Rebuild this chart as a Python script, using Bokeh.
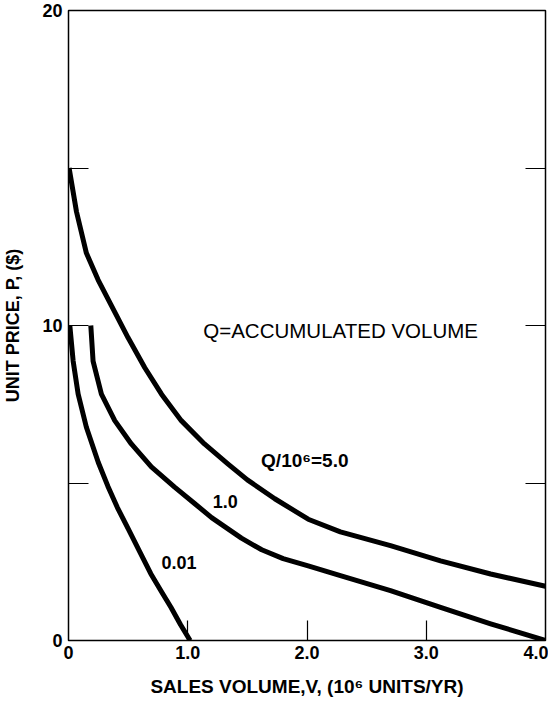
from bokeh.plotting import figure
from bokeh.models import Range1d, FixedTicker, LinearAxis
from bokeh.core.properties import value
from bokeh.embed import file_html
from bokeh.resources import INLINE

# Demand curves: unit price P ($) vs sales volume V (10^6 units/yr) for accumulated volume Q
q5_x = [0.005, 0.067, 0.15, 0.248, 0.36, 0.50, 0.64, 0.78, 0.946, 1.14, 1.336, 1.50, 1.73, 2.01, 2.28, 2.70, 3.12, 3.54, 4.00]
q5_y = [15.0, 13.61, 12.3, 11.45, 10.63, 9.61, 8.66, 7.82, 6.98, 6.24, 5.61, 5.10, 4.50, 3.85, 3.45, 3.01, 2.53, 2.11, 1.72]

q1_x = [0.187, 0.206, 0.276, 0.388, 0.527, 0.695, 0.89, 1.057, 1.20, 1.45, 1.62, 1.80, 2.01, 2.28, 2.70, 3.12, 3.54, 4.00]
q1_y = [10.0, 8.87, 7.82, 6.98, 6.24, 5.51, 4.87, 4.35, 3.90, 3.25, 2.88, 2.60, 2.37, 2.06, 1.58, 1.05, 0.53, 0.0]

q001_x = [0.011, 0.039, 0.081, 0.15, 0.25, 0.33, 0.41, 0.50, 0.60, 0.69, 0.78, 0.86, 0.94, 1.02]
q001_y = [10.0, 8.87, 7.82, 6.77, 5.65, 4.90, 4.22, 3.55, 2.80, 2.12, 1.55, 1.05, 0.50, 0.0]

x_ticks = [0, 1, 2, 3, 4]
x_tick_labels = ["0", "1.0", "2.0", "3.0", "4.0"]
x_minor = [1, 2, 3]
y_ticks = [0, 10, 20]
y_minor = [5, 10, 15]

ann_text = ["Q=ACCUMULATED VOLUME", "Q/10\u2076=5.0", "1.0", "0.01"]
ann_x = [1.13, 1.615, 1.21, 0.78]
ann_y = [9.84, 5.70, 4.40, 2.47]

FONT = "Liberation Sans"

p = figure(width=548, height=700, x_range=Range1d(0, 4), y_range=Range1d(0, 20),
           output_backend="svg", toolbar_location=None,
           min_border_left=67, min_border_right=3, min_border_top=10, min_border_bottom=60)
p.grid.visible = False
p.background_fill_color = "white"
p.border_fill_color = "white"
p.outline_line_color = "black"
p.outline_line_width = 1.5

xa = p.xaxis[0]
xa.ticker = FixedTicker(ticks=x_ticks, minor_ticks=x_minor)
xa.major_label_overrides = {float(t): l for t, l in zip(x_ticks, x_tick_labels)}
xa.major_tick_in = 0
xa.major_tick_out = 0
xa.minor_tick_in = 20
xa.minor_tick_out = 0
xa.minor_tick_line_color = "black"
xa.minor_tick_line_width = 1.2
xa.axis_line_color = None
xa.major_label_standoff = 5
xa.major_label_text_font = FONT
xa.major_label_text_font_style = "bold"
xa.major_label_text_font_size = "18px"
xa.major_label_text_color = "black"
xa.axis_label = "SALES VOLUME,V, (10\u2076 UNITS/YR)"
xa.axis_label_text_font = FONT
xa.axis_label_text_font_style = "bold"
xa.axis_label_text_font_size = "19px"
xa.axis_label_text_color = "black"
xa.axis_label_standoff = 14

ya = p.yaxis[0]
ya.ticker = FixedTicker(ticks=y_ticks, minor_ticks=y_minor)
ya.major_tick_in = 0
ya.major_tick_out = 0
ya.minor_tick_in = 20
ya.minor_tick_out = 0
ya.minor_tick_line_color = "black"
ya.minor_tick_line_width = 1.2
ya.axis_line_color = None
ya.major_label_standoff = 6
ya.major_label_text_font = FONT
ya.major_label_text_font_style = "bold"
ya.major_label_text_font_size = "18px"
ya.major_label_text_color = "black"
ya.axis_label = "UNIT PRICE, P, ($)"
ya.axis_label_text_font = FONT
ya.axis_label_text_font_style = "bold"
ya.axis_label_text_font_size = "18px"
ya.axis_label_text_color = "black"
ya.axis_label_standoff = 16

ra = LinearAxis(ticker=FixedTicker(ticks=[], minor_ticks=y_minor),
                major_tick_in=0, major_tick_out=0,
                minor_tick_in=20, minor_tick_out=0,
                minor_tick_line_color="black", minor_tick_line_width=1.2,
                axis_line_color=None, major_label_standoff=0)
p.add_layout(ra, "right")

for xs, ys in [(q5_x, q5_y), (q1_x, q1_y), (q001_x, q001_y)]:
    p.line(xs, ys, line_width=5, line_color="black", line_join="round")

p.text(x=ann_x[:1], y=ann_y[:1], text=ann_text[:1], text_font=value(FONT),
       text_font_size="20.5px", text_baseline="middle", text_align="left", text_color="black")
p.text(x=ann_x[1:2], y=ann_y[1:2], text=ann_text[1:2], text_font=value(FONT),
       text_font_size="19px", text_font_style="bold", text_baseline="middle",
       text_align="left", text_color="black")
p.text(x=ann_x[2:], y=ann_y[2:], text=ann_text[2:], text_font=value(FONT),
       text_font_size="18px", text_font_style="bold", text_baseline="middle",
       text_align="left", text_color="black")

open("out.html", "w").write(file_html(p, INLINE))
